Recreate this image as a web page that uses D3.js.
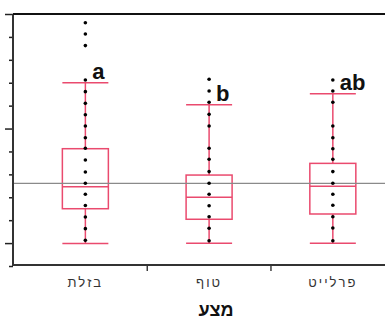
<!DOCTYPE html>
<html>
<head>
<meta charset="utf-8">
<script src="https://cdn.jsdelivr.net/npm/d3@7"></script>
<style>
  html, body { margin: 0; padding: 0; background: #ffffff; }
  svg { display: block; font-family: "Liberation Sans", Arial, sans-serif; }
</style>
</head>
<body>
<div id="chart"></div>
<script>
// Box plots per growing medium (מצע), with the raw observations as dots
// and significance letters above each whisker.

const CATEGORIES = ["בזלת", "טוף", "פרלייט"];
const LETTERS = ["a", "b", "ab"];
const WHISKER_LOW = [0.98, 0.99, 0.99];
const Q1 = [2.50, 2.04, 2.27];
const MEDIAN = [3.46, 3.00, 3.48];
const Q3 = [5.12, 3.97, 4.48];
const WHISKER_HIGH = [8.0, 7.04, 7.52];
const REFERENCE = 3.61;

const POINTS_BASALT = [1.12, 1.63, 2.14, 2.64, 3.13, 3.61, 4.10, 4.63, 5.14, 5.60,
  6.11, 6.60, 7.10, 7.61, 8.12, 9.62, 10.13, 10.62];
const POINTS_TUFF = [1.10, 1.65, 2.15, 2.63, 3.13, 3.61, 4.12, 4.66, 5.14, 6.11,
  6.62, 7.15, 7.64, 8.15];
const POINTS_PERLITE = [1.10, 1.66, 2.15, 2.65, 3.13, 3.61, 4.12, 4.66, 5.12, 5.60,
  6.11, 7.15, 7.64, 8.12];
const POINTS = [POINTS_BASALT, POINTS_TUFF, POINTS_PERLITE];

const Y_TICKS = [0, 1, 2, 3, 4, 5, 6, 7, 8, 9, 10, 11];
const Y_MAJOR = [1, 6, 11];

const X_TITLE = "מצע";
const BOX_COLOR = "#ea4a6e";

const width = 385;
const height = 322;
const plotLeft = 13;
const plotTop = 14;
const plotBottom = 266;

const svg = d3.select("#chart").append("svg")
  .attr("width", width)
  .attr("height", height);

const x = d3.scaleBand()
  .domain(CATEGORIES)
  .range([23.5, 394.7])
  .padding(0);

const y = d3.scaleLinear()
  .domain([0, 11])
  .range([plotBottom, plotTop]);

const boxWidth = 46;
const capWidth = 46;

const data = CATEGORIES.map((name, i) => ({
  name,
  letter: LETTERS[i],
  low: WHISKER_LOW[i],
  q1: Q1[i],
  median: MEDIAN[i],
  q3: Q3[i],
  high: WHISKER_HIGH[i],
  points: POINTS[i],
}));

const cx = (d) => x(d.name) + x.bandwidth() / 2;

// ---- boxes ----
const groups = svg.selectAll("g.box")
  .data(data)
  .enter()
  .append("g")
  .attr("class", "box");

groups.append("line")
  .attr("x1", cx).attr("x2", cx)
  .attr("y1", (d) => y(d.high)).attr("y2", (d) => y(d.q3))
  .attr("stroke", BOX_COLOR).attr("stroke-width", 1.5);

groups.append("line")
  .attr("x1", cx).attr("x2", cx)
  .attr("y1", (d) => y(d.q1)).attr("y2", (d) => y(d.low))
  .attr("stroke", BOX_COLOR).attr("stroke-width", 1.5);

groups.append("line")
  .attr("x1", (d) => cx(d) - capWidth / 2).attr("x2", (d) => cx(d) + capWidth / 2)
  .attr("y1", (d) => y(d.high)).attr("y2", (d) => y(d.high))
  .attr("stroke", BOX_COLOR).attr("stroke-width", 1.5);

groups.append("line")
  .attr("x1", (d) => cx(d) - capWidth / 2).attr("x2", (d) => cx(d) + capWidth / 2)
  .attr("y1", (d) => y(d.low)).attr("y2", (d) => y(d.low))
  .attr("stroke", BOX_COLOR).attr("stroke-width", 1.5);

groups.append("rect")
  .attr("x", (d) => cx(d) - boxWidth / 2)
  .attr("width", boxWidth)
  .attr("y", (d) => y(d.q3))
  .attr("height", (d) => y(d.q1) - y(d.q3))
  .attr("fill", "none")
  .attr("stroke", BOX_COLOR).attr("stroke-width", 1.5);

groups.append("line")
  .attr("x1", (d) => cx(d) - boxWidth / 2).attr("x2", (d) => cx(d) + boxWidth / 2)
  .attr("y1", (d) => y(d.median)).attr("y2", (d) => y(d.median))
  .attr("stroke", BOX_COLOR).attr("stroke-width", 1.5);

// ---- reference line ----
svg.append("line")
  .attr("x1", plotLeft).attr("x2", width)
  .attr("y1", y(REFERENCE)).attr("y2", y(REFERENCE))
  .attr("stroke", "#8a8a8a").attr("stroke-width", 1.3);

// ---- observations ----
svg.selectAll("g.dots")
  .data(data)
  .enter()
  .append("g")
  .attr("class", "dots")
  .selectAll("circle")
  .data((d) => d.points.map((v) => ({ v, c: cx(d) })))
  .enter()
  .append("circle")
  .attr("cx", (p) => p.c)
  .attr("cy", (p) => y(p.v))
  .attr("r", 1.8)
  .attr("fill", "#000");

// ---- significance letters ----
groups.append("text")
  .attr("x", (d) => cx(d) + 7)
  .attr("y", (d) => y(d.high) - 4)
  .attr("font-size", 22)
  .attr("font-weight", "bold")
  .attr("fill", "#111")
  .text((d) => d.letter);

// ---- y axis (no labels) ----
const yAxis = svg.append("g")
  .attr("transform", `translate(${plotLeft},0)`)
  .call(d3.axisLeft(y).tickValues(Y_TICKS).tickSize(4).tickFormat(""));
yAxis.select(".domain").remove();
yAxis.selectAll(".tick line")
  .attr("x2", (d) => (Y_MAJOR.includes(d) ? -8 : -4))
  .attr("stroke", "#222")
  .attr("stroke-width", 1.5);

svg.append("line")
  .attr("x1", plotLeft).attr("x2", plotLeft)
  .attr("y1", plotTop).attr("y2", plotBottom)
  .attr("stroke", "#333").attr("stroke-width", 2);

// top frame line
svg.append("line")
  .attr("x1", plotLeft).attr("x2", width)
  .attr("y1", plotTop).attr("y2", plotTop)
  .attr("stroke", "#111").attr("stroke-width", 2);

// ---- x axis ----
svg.append("line")
  .attr("x1", plotLeft).attr("x2", width)
  .attr("y1", plotBottom - 1).attr("y2", plotBottom - 1)
  .attr("stroke", "#333").attr("stroke-width", 2);

svg.selectAll("line.xtick")
  .data(CATEGORIES.slice(1))
  .enter()
  .append("line")
  .attr("class", "xtick")
  .attr("x1", (d) => x(d)).attr("x2", (d) => x(d))
  .attr("y1", plotBottom).attr("y2", plotBottom + 5)
  .attr("stroke", "#222").attr("stroke-width", 1.3);

svg.selectAll("text.xlabel")
  .data(CATEGORIES)
  .enter()
  .append("text")
  .attr("class", "xlabel")
  .attr("x", (d) => x(d) + x.bandwidth() / 2)
  .attr("y", 287)
  .attr("text-anchor", "middle")
  .attr("font-size", 13)
  .attr("letter-spacing", 2)
  .attr("fill", "#333")
  .text((d) => d);

svg.append("text")
  .attr("x", 216)
  .attr("y", 316)
  .attr("text-anchor", "middle")
  .attr("font-size", 18)
  .attr("font-weight", "bold")
  .attr("fill", "#111")
  .text(X_TITLE);
</script>
</body>
</html>
